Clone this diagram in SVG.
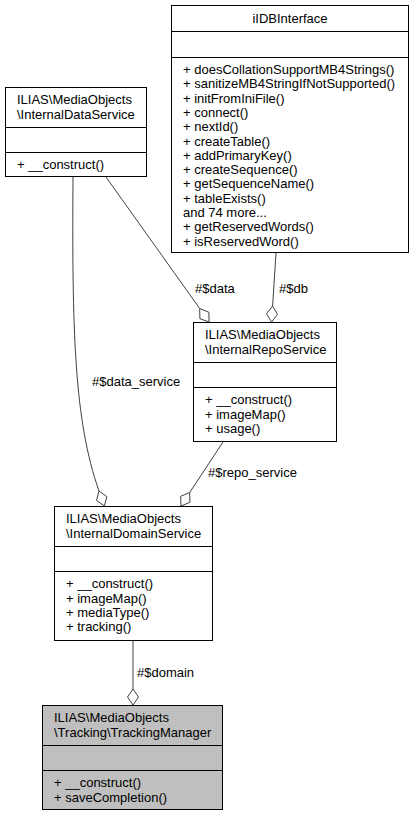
<svg xmlns="http://www.w3.org/2000/svg" width="413" height="816" viewBox="0 0 413 816">
<style>
.box{fill:#ffffff;stroke:#000000;stroke-width:1}
.cur{fill:#bfbfbf;stroke:#000000;stroke-width:1}
.sep{stroke:#000000;stroke-width:1}
text{font-family:"Liberation Sans",Arial,Helvetica,sans-serif;font-size:13px;fill:#000000}
.mid{text-anchor:middle}
.edge{fill:none;stroke:#404040;stroke-width:1}
.dia{fill:#ffffff;stroke:#404040;stroke-width:1}
</style>
<rect width="413" height="816" fill="#ffffff"/>
<g id="connectors">
<path class="edge" d="M106,177 L199.7,308.5"/>
<polygon class="dia" points="209,322 199.9,318.7 199.7,308.5 208.9,312.3"/>
<text x="195" y="292.5">#$data</text>
<path class="edge" d="M276,253 L272.6,306"/>
<polygon class="dia" points="271.5,322 266.5,313.6 272.6,306 277.5,314.4"/>
<text x="279" y="293">#$db</text>
<path class="edge" d="M73,177 C72,330 74,420 99,491"/>
<polygon class="dia" points="104.4,506 96.5,500.4 99,491 106.9,496.7"/>
<text x="92" y="385.5">#$data_service</text>
<path class="edge" d="M223,442 L189.7,492.5"/>
<polygon class="dia" points="181,506 189.9,502.3 189.7,492.5 180.7,496.3"/>
<text x="208" y="477">#$repo_service</text>
<path class="edge" d="M133,641 L133,689"/>
<polygon class="dia" points="133,705 127.5,697 133,689 138.5,697"/>
<text x="137" y="677">#$domain</text>
</g>
<g id="iIDBInterface">
<rect class="box" x="171.5" y="5.5" width="237" height="247"/>
<line class="sep" x1="171.5" y1="31.5" x2="408.5" y2="31.5"/>
<line class="sep" x1="171.5" y1="57.5" x2="408.5" y2="57.5"/>
<text class="mid" x="290" y="22.7">iIDBInterface</text>
<text x="183" y="74">+ doesCollationSupportMB4Strings()</text>
<text x="183" y="88.3">+ sanitizeMB4StringIfNotSupported()</text>
<text x="183" y="102.6">+ initFromIniFile()</text>
<text x="183" y="116.9">+ connect()</text>
<text x="183" y="131.2">+ nextId()</text>
<text x="183" y="145.5">+ createTable()</text>
<text x="183" y="159.8">+ addPrimaryKey()</text>
<text x="183" y="174.1">+ createSequence()</text>
<text x="183" y="188.4">+ getSequenceName()</text>
<text x="183" y="202.7">+ tableExists()</text>
<text x="183" y="217">and 74 more...</text>
<text x="183" y="231.3">+ getReservedWords()</text>
<text x="183" y="245.6">+ isReservedWord()</text>
</g>
<g id="InternalDataService">
<rect class="box" x="5.5" y="87.5" width="141" height="89"/>
<line class="sep" x1="5.5" y1="127.5" x2="146.5" y2="127.5"/>
<line class="sep" x1="5.5" y1="152.5" x2="146.5" y2="152.5"/>
<text x="17" y="104.2">ILIAS\MediaObjects</text>
<text x="17" y="118.5">\InternalDataService</text>
<text x="17" y="169.2">+ __construct()</text>
</g>
<g id="InternalRepoService">
<rect class="box" x="193.5" y="322.5" width="143" height="119"/>
<line class="sep" x1="193.5" y1="362.5" x2="336.5" y2="362.5"/>
<line class="sep" x1="193.5" y1="387.5" x2="336.5" y2="387.5"/>
<text x="205" y="339.2">ILIAS\MediaObjects</text>
<text x="205" y="353.5">\InternalRepoService</text>
<text x="205" y="404.2">+ __construct()</text>
<text x="205" y="418.5">+ imageMap()</text>
<text x="205" y="432.8">+ usage()</text>
</g>
<g id="InternalDomainService">
<rect class="box" x="54.5" y="506.5" width="158" height="134"/>
<line class="sep" x1="54.5" y1="546.5" x2="212.5" y2="546.5"/>
<line class="sep" x1="54.5" y1="571.5" x2="212.5" y2="571.5"/>
<text x="66" y="523.2">ILIAS\MediaObjects</text>
<text x="66" y="537.5">\InternalDomainService</text>
<text x="66" y="588.2">+ __construct()</text>
<text x="66" y="602.5">+ imageMap()</text>
<text x="66" y="616.8">+ mediaType()</text>
<text x="66" y="631.1">+ tracking()</text>
</g>
<g id="TrackingManager">
<rect class="cur" x="42.5" y="705.5" width="180" height="104"/>
<line class="sep" x1="42.5" y1="745.5" x2="222.5" y2="745.5"/>
<line class="sep" x1="42.5" y1="770.5" x2="222.5" y2="770.5"/>
<text x="54" y="722.2">ILIAS\MediaObjects</text>
<text x="54" y="736.5">\Tracking\TrackingManager</text>
<text x="54" y="787.2">+ __construct()</text>
<text x="54" y="801.5">+ saveCompletion()</text>
</g>
</svg>
